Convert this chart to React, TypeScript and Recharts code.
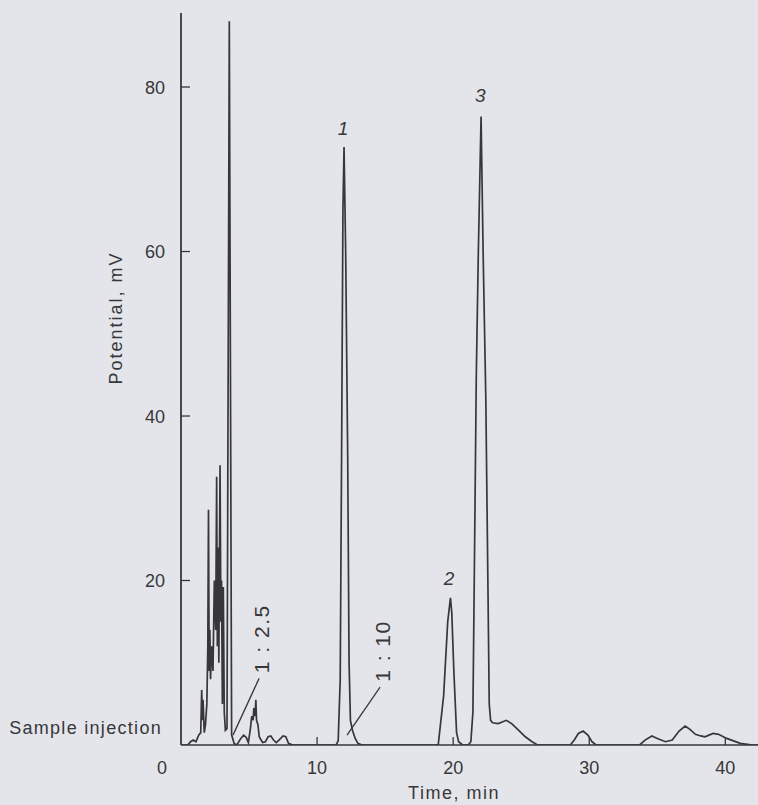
import { LineChart, Line, XAxis, YAxis, ReferenceLine, ReferenceDot } from 'recharts';

// chromatogram trace (time in min, potential in mV)
const times = [
  0, 0.5, 0.7, 0.9, 1.1, 1.2, 1.3, 1.45, 1.52, 1.58, 1.62, 1.71, 1.8, 1.9, 1.97, 2.02, 2.07, 2.12, 2.17, 2.25, 2.35,
  2.45, 2.55, 2.62, 2.67, 2.72, 2.78, 2.87, 2.93, 2.98, 3.04, 3.11, 3.18, 3.26, 3.38, 3.55, 3.72, 3.8, 3.9, 4.1,
  4.4, 4.6, 4.8, 4.95, 5.1, 5.2, 5.3, 5.35, 5.45, 5.5, 5.55, 5.65, 5.75, 5.85, 6.0, 6.2, 6.4, 6.6, 6.8, 7.0,
  7.2, 7.5, 7.7, 7.9, 8.2, 11.4, 11.55, 11.7, 11.8, 11.9, 11.98, 12.1, 12.25, 12.35, 12.45, 12.6, 12.8, 13.0, 13.3,
  18.9, 19.3, 19.6, 19.8, 19.9, 20.05, 20.25, 20.4, 20.7, 21.1, 21.3, 21.45, 21.55, 21.7, 21.85, 22.05, 22.2, 22.4,
  22.55, 22.65, 22.75, 22.9, 23.3, 23.6, 23.9, 24.3, 24.8, 25.3, 25.8, 26.2, 28.6, 28.9, 29.2, 29.55, 29.9, 30.2,
  30.5, 33.7, 34.1, 34.6, 35.0, 35.6, 36.1, 36.6, 37.05, 37.4, 37.8, 38.2, 38.5, 38.8, 39.1, 39.5, 40.1, 40.6,
  41.1, 42.0, 42.4,
];
const potential = [
  0, 0, 0.4, 0.6, 0.4, 0.8, 1.2, 1.5, 6.7, 3, 5.5, 1.5, 2.5, 5, 12, 28.6, 9, 14, 8, 12, 9,
  20, 14, 32.6, 12, 24, 10, 34, 15, 20, 5, 19.2, 4, 1.8, 2, 88, 1.2, 0.8, 0.2, 0,
  0.8, 1.2, 0.9, 0.3, 2, 3.5, 3, 4.5, 3.5, 5.5, 3, 2.5, 1, 0.7, 0.3, 0.4, 1, 1.1, 0.6, 0.3,
  0.6, 1.1, 1, 0.2, 0, 0, 0.5, 8, 35, 65, 72.7, 60, 35, 10, 3, 1.8, 0.8, 0.2, 0,
  0, 6, 15, 17.9, 16, 9, 1.5, 0.4, 0, 0, 0.4, 4, 20, 45, 60, 76.4, 60, 42,
  20, 5, 3, 2.7, 2.6, 2.8, 3.0, 2.6, 1.8, 1, 0.4, 0, 0, 0.6, 1.4, 1.7, 1.2, 0.4,
  0, 0, 0.6, 1.1, 0.8, 0.4, 0.6, 1.7, 2.3, 1.9, 1.3, 1.1, 1.0, 1.2, 1.4, 1.3, 0.8, 0.5,
  0.2, 0, 0,
];
const xTicks = [0, 10, 20, 30, 40];
const yTicks = [20, 40, 60, 80];
const peakLabels = [
  { t: 11.9, v: 75, text: '1' },
  { t: 19.7, v: 20.3, text: '2' },
  { t: 22.0, v: 79, text: '3' },
];

const data = times.map((t, i) => ({ t, v: potential[i] }));

const INK = '#37373a';
const FONT = '"Liberation Sans", Arial, sans-serif';

const XTick = (props: any) => {
  const { x, y, payload } = props;
  const val = payload.value;
  return (
    <g>
      {val !== 0 && <line x1={x} y1={y} x2={x} y2={y - 8} stroke={INK} strokeWidth={1.3} />}
      <text x={val === 0 ? x - 19 : x} y={y + 29} textAnchor="middle" fill={INK} fontSize={18} fontFamily={FONT}>
        {val}
      </text>
    </g>
  );
};

const YTick = (props: any) => {
  const { x, y, payload } = props;
  return (
    <g>
      <line x1={x} y1={y} x2={x + 9} y2={y} stroke={INK} strokeWidth={1.3} />
      <text x={x - 16} y={y + 6.5} textAnchor="end" fill={INK} fontSize={18} fontFamily={FONT}>
        {payload.value}
      </text>
    </g>
  );
};

const rotatedText = (text: string) => (props: any) => {
  const { viewBox } = props;
  const cx = viewBox.cx ?? viewBox.x;
  const cy = viewBox.cy ?? viewBox.y;
  return (
    <text
      x={cx}
      y={cy}
      transform={`rotate(-90, ${cx}, ${cy})`}
      textAnchor="middle"
      dominantBaseline="central"
      fill={INK}
      fontSize={21}
      fontFamily={FONT}
      letterSpacing={1.5}
    >
      {text}
    </text>
  );
};

export default function App() {
  return (
    <div style={{ position: 'fixed', left: 0, top: 0, width: 758, height: 805, background: '#e4e5ea' }}>
      <LineChart width={758} height={805} data={data} margin={{ top: 13, right: 0, bottom: 0, left: 0 }}>
        <XAxis
          dataKey="t"
          type="number"
          domain={[0, 42.4]}
          ticks={xTicks}
          allowDataOverflow
          height={60}
          tickSize={0}
          tickMargin={0}
          tickLine={false}
          axisLine={{ stroke: INK, strokeWidth: 1.3 }}
          tick={<XTick />}
          label={{
            content: () => (
              <text x={454} y={799} textAnchor="middle" fill={INK} fontSize={18} fontFamily={FONT} letterSpacing={1.5}>
                Time, min
              </text>
            ),
          }}
        />
        <YAxis
          type="number"
          domain={[0, 89]}
          ticks={yTicks}
          allowDataOverflow
          width={181}
          tickSize={0}
          tickMargin={0}
          tickLine={false}
          axisLine={{ stroke: INK, strokeWidth: 1.8 }}
          tick={<YTick />}
          label={{
            content: () => (
              <text
                x={116}
                y={318}
                transform="rotate(-90, 116, 318)"
                textAnchor="middle"
                dominantBaseline="central"
                fill={INK}
                fontSize={18}
                fontFamily={FONT}
                letterSpacing={2}
              >
                Potential, mV
              </text>
            ),
          }}
        />
        <Line
          type="linear"
          dataKey="v"
          stroke={INK}
          strokeWidth={1.7}
          dot={false}
          isAnimationActive={false}
        />
        <ReferenceLine
          segment={[{ x: 3.82, y: 1.2 }, { x: 5.74, y: 8.1 }]}
          stroke={INK}
          strokeWidth={1.3}
        />
        <ReferenceLine
          segment={[{ x: 12.2, y: 1.2 }, { x: 14.63, y: 7.05 }]}
          stroke={INK}
          strokeWidth={1.3}
        />
        <ReferenceDot x={5.96} y={12.8} r={1} fill="none" stroke="none" label={{ content: rotatedText('1 : 2.5') }} />
        <ReferenceDot x={14.9} y={11.3} r={1} fill="none" stroke="none" label={{ content: rotatedText('1 : 10') }} />
        <ReferenceDot
          x={0}
          y={2}
          r={1}
          fill="none"
          stroke="none"
          label={{
            content: (props: any) => (
              <text
                x={props.viewBox.x - 18}
                y={props.viewBox.y + 6}
                textAnchor="end"
                fill={INK}
                fontSize={18}
                fontFamily={FONT}
                letterSpacing={1.3}
              >
                Sample injection
              </text>
            ),
          }}
        />
        {peakLabels.map((p) => (
          <ReferenceDot
            key={p.text}
            x={p.t}
            y={p.v}
            r={1}
            fill="none"
            stroke="none"
            label={{ value: p.text, position: 'center', fill: INK, fontSize: 19, fontStyle: 'italic', fontFamily: FONT }}
          />
        ))}
      </LineChart>
    </div>
  );
}
